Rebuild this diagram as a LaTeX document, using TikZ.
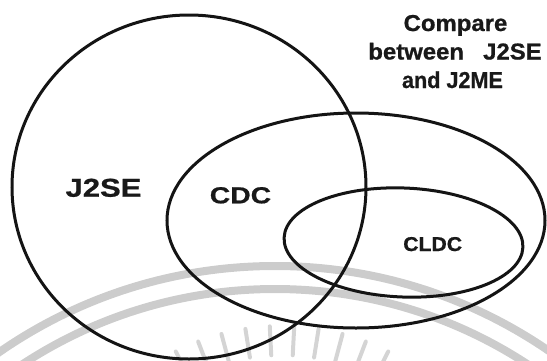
\documentclass[tikz,border=0pt]{standalone}
\usepackage{fontspec}
\setmainfont{Liberation Sans}
\newfontfamily\heavysans{Liberation Sans Bold}[FakeBold=0.8]
\begin{document}
\begin{tikzpicture}[x=1pt,y=-1pt,
  setline/.style={line width=3pt, draw=black!92},
  setlabel/.style={inner sep=0pt, anchor=base, font=\heavysans, text=black!90},
  wmband/.style={line width=8pt, draw=black!20},
  wmray/.style={line width=4pt, draw=black!17, line cap=round}]
\useasboundingbox (0,0) rectangle (547,360);
\begin{scope}
  \clip (0,0) rectangle (547,360);
  % faint emblem behind the diagram: two arcs and a fan of rays
  \draw[wmband] (275,750) circle (484);
  \draw[wmband] (275,750) circle (461);
  \foreach \a in {-27,-21,...,27}
    \draw[wmray] ({282+205*sin(\a)},{560-205*cos(\a)}) -- ({282+234*sin(\a)},{560-234*cos(\a)});
  % the three sets
  \draw[setline] (189,187) ellipse [x radius=177, y radius=172];
  \draw[setline] (356,220.5) ellipse [x radius=189, y radius=107.5];
  \draw[setline, rotate around={-2.3:(403.5,242.5)}] (403.5,242.5) ellipse [x radius=119.5, y radius=54.5];
\end{scope}
% set names
\node[setlabel] (j2se) at (103.5,196.7) {\fontsize{25.8}{30}\selectfont\scalebox{1.2}[1]{J2SE}};
\node[setlabel] (cdc) at (240.5,203.3) {\fontsize{23.2}{28}\selectfont\scalebox{1.22}[1]{CDC}};
\node[setlabel] (cldc) at (432.7,251) {\fontsize{20}{24}\selectfont\scalebox{1.06}[1]{CLDC}};
% heading
\node[setlabel] (titleA) at (455.5,31) {\fontsize{23}{28}\selectfont\scalebox{1.04}[1]{Compare}};
\node[setlabel] (titleB) at (455,59.5) {\fontsize{23}{28}\selectfont\scalebox{1.04}[1]{between\hspace{0.8em}J2SE}};
\node[setlabel] (titleC) at (452.5,88) {\fontsize{23}{28}\selectfont\scalebox{0.94}[1]{and J2ME}};
\end{tikzpicture}
\end{document}
